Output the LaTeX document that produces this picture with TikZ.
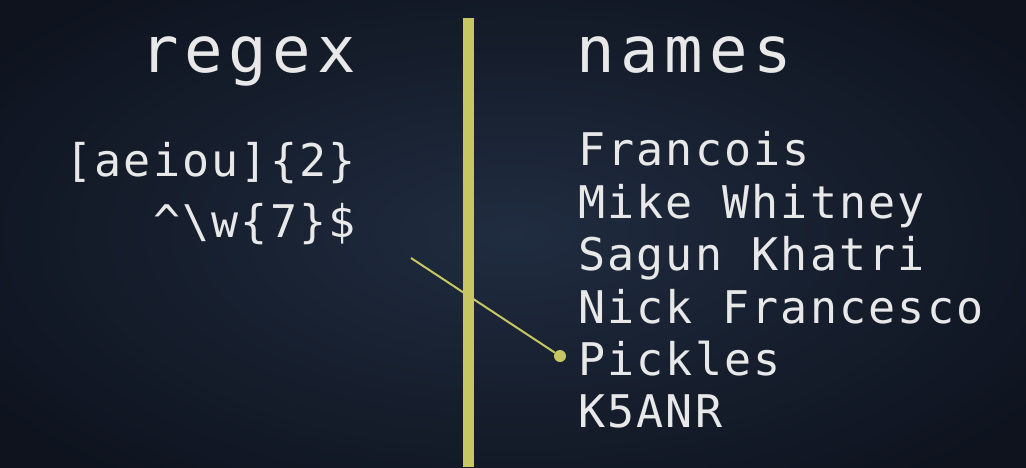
\documentclass[tikz,border=0pt]{standalone}
\usepackage{fontspec}
\newfontfamily\headfont[LetterSpace=9]{DejaVu Sans Mono}
\newfontfamily\bodyfont[LetterSpace=4.8]{DejaVu Sans Mono}
\definecolor{bgin}{RGB}{32,44,64}
\definecolor{bgout}{RGB}{14,19,30}
\definecolor{barcol}{RGB}{198,198,98}
\definecolor{txtcol}{RGB}{232,232,232}
\begin{document}
\begin{tikzpicture}[x=1pt, y=-1pt,
                    header label/.style={text=txtcol, inner sep=0pt, font=\headfont\fontsize{64}{72}\selectfont},
                    regex label/.style={text=txtcol, inner sep=0pt, anchor=base east, font=\bodyfont\fontsize{45}{52}\selectfont},
                    name label/.style={text=txtcol, inner sep=0pt, anchor=base west, font=\bodyfont\fontsize{45}{52}\selectfont},
                    match dot/.style={circle, fill=barcol, inner sep=0pt, minimum size=12pt}]
    % background
    \useasboundingbox (0,0) rectangle (1026,467);
    \shade[inner color=bgin, outer color=bgout] (-120,-80) rectangle (1146,547);

    % divider
    \draw[barcol, line width=11pt] (468,18) -- (468,467);

    % headers
    \node[header label, anchor=base east] (regexhead) at (356,72) {regex};
    \node[header label, anchor=base west] (nameshead) at (576,72) {names};

    % patterns
    \node[regex label] (vowels) at (356,176) {[aeiou]\{2\}};
    \node[regex label] (seven)  at (356,237) {\^{}\textbackslash w\{7\}\$};

    % names
    \node[name label] (francois) at (578,165) {Francois};
    \node[name label] (mike)     at (578,218) {Mike Whitney};
    \node[name label] (sagun)    at (578,270) {Sagun Khatri};
    \node[name label] (nick)     at (578,323) {Nick Francesco};
    \node[name label] (pickles)  at (578,375) {Pickles};
    \node[name label] (k5anr)    at (578,427) {K5ANR};

    % match
    \coordinate (src) at (411,258);
    \node[match dot] (dot) at (560,356) {};
    \draw[barcol, line width=2pt] (src) -- (dot);
\end{tikzpicture}
\end{document}
